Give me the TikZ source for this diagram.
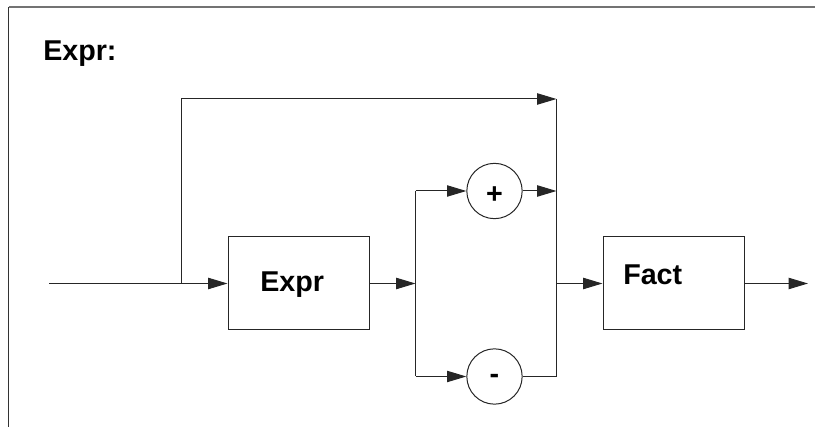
\documentclass[tikz,border=0pt]{standalone}
\usepackage{fontspec}
\setmainfont{Liberation Sans}
\usetikzlibrary{arrows.meta}
\begin{document}
\begin{tikzpicture}[x=0.75pt,y=-0.75pt,
  wire/.style={line width=0.75pt, draw=black!85},
  arr/.style={wire, -{Triangle[length=14.5pt,width=8.5pt]}},
  boxnode/.style={draw=black!85, line width=0.75pt, minimum width=105.75pt, minimum height=69.75pt, inner sep=0pt},
  opnode/.style={draw=black!85, line width=0.75pt, circle, minimum size=41.5pt, inner sep=0pt},
  lbl/.style={font=\bfseries\fontsize{21.5}{26}\selectfont, inner sep=0pt}]
\useasboundingbox (0,0) rectangle (815,427);
% frame
\draw[line width=1.1pt, draw=black!80] (8.5,427) -- (8.5,7);
\draw[line width=1.5pt, draw=black!55] (8.5,7) -- (815,7);
% title
\node[lbl, anchor=base west] (title) at (43,61) {Expr:};
% nodes
\node[boxnode] (expr) at (298.5,283.5) {};
\node[lbl, anchor=base west] (exprt) at (260,292) {Expr};
\node[boxnode] (fact) at (673.5,283.5) {};
\node[lbl, anchor=base west] (factt) at (623,285) {Fact};
\node[opnode] (plus) at (494.5,191) {};
\node[lbl] (plust) at (494.5,195) {+};
\node[opnode] (minus) at (494.5,376.5) {};
\node[lbl] (minust) at (494.5,379) {-};
% coordinates
\coordinate (start) at (49,283.5);
\coordinate (br) at (181,283.5);
\coordinate (brtop) at (181,99);
\coordinate (rtop) at (556.5,99);
\coordinate (rmid) at (556.5,283.5);
\coordinate (rplus) at (556.5,191);
\coordinate (rbot) at (556.5,376.5);
\coordinate (jmid) at (415.5,283.5);
\coordinate (jtop) at (415.5,191);
\coordinate (jbot) at (415.5,376.5);
\coordinate (out) at (808,283.5);
% connectors
\draw[arr] (start) -- (expr.west);
\draw[wire] (br) -- (brtop);
\draw[arr] (brtop) -- (rtop);
\draw[arr] (expr.east) -- (jmid);
\draw[wire] (jtop) -- (jbot);
\draw[arr] (jtop) -- (plus.west);
\draw[arr] (jbot) -- (minus.west);
\draw[arr] (plus.east) -- (rplus);
\draw[wire] (minus.east) -- (rbot) -- (rtop);
\draw[arr] (rmid) -- (fact.west);
\draw[arr] (fact.east) -- (out);
\end{tikzpicture}
\end{document}
